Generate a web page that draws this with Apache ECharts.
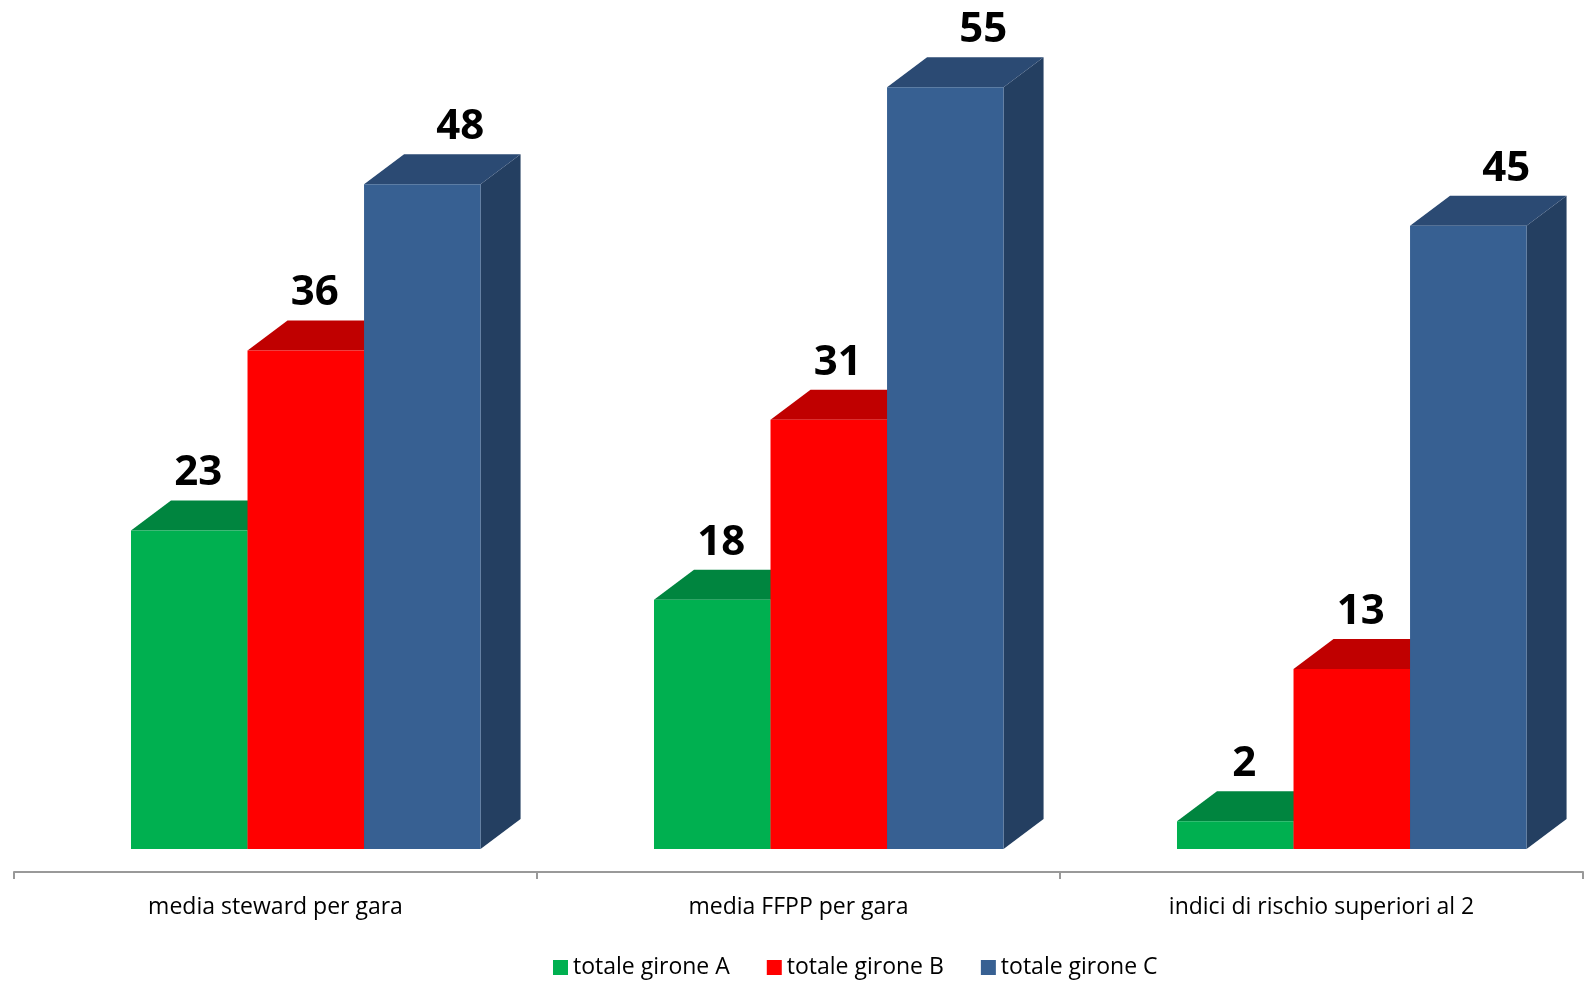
<!DOCTYPE html>
<html>
<head>
<meta charset="utf-8">
<script src="https://cdn.jsdelivr.net/npm/echarts@6/dist/echarts.min.js"></script>
<style>html,body{margin:0;padding:0;background:#fff;overflow:hidden;}#c{width:1587px;height:992px;}</style>
</head>
<body>
<div id="c"></div>
<script>
const categories = ['media steward per gara', 'media FFPP per gara', 'indici di rischio superiori al 2'];
const seriesNames = ['totale girone A', 'totale girone B', 'totale girone C'];
const gironeA = [23, 18, 2];
const gironeB = [36, 31, 13];
const gironeC = [48, 55, 45];

const frontColors = ['#00B050', '#FF0000', '#376092'];
const topColors = ['#00853F', '#C00000', '#2B4A73'];
const sideColors = ['#007A3A', '#A00000', '#243F61'];
const labelShift = [9, 9, 38];
const FONT = '"Open Sans", "Liberation Sans", sans-serif';

const chart = echarts.init(document.getElementById('c'), null, {renderer: 'canvas'});

function makeRender(si) {
  return function (params, api) {
    const cat = api.value(0), val = api.value(1);
    const top = api.coord([cat, val]);
    const base = api.coord([cat, 0]);
    const band = api.size([1, 0])[0];
    const w = band * 0.2228;
    const dx = band * 0.0765, dy = band * 0.0574;
    const x0 = top[0] - band * 0.2763 + si * w;
    const x1 = x0 + w;
    const yt = top[1], yb = base[1];
    const children = [
      {type: 'polygon', shape: {points: [[x1, yt], [x1 + dx, yt - dy], [x1 + dx, yb - dy], [x1, yb]]}, style: {fill: sideColors[si]}},
      {type: 'polygon', shape: {points: [[x0, yt], [x0 + dx, yt - dy], [x1 + dx, yt - dy], [x1, yt]]}, style: {fill: topColors[si]}},
      {type: 'rect', shape: {x: x0, y: yt, width: w, height: yb - yt}, style: {fill: frontColors[si]}},
      {type: 'text', style: {text: String(val), x: x0 + w / 2 + labelShift[si], y: yt - dy - 27, align: 'center', verticalAlign: 'middle', font: 'bold 42px ' + FONT, fill: '#000'}, z2: 100}
    ];
    return {type: 'group', children: children};
  };
}

const datasets = [gironeA, gironeB, gironeC];
const series = datasets.map((arr, si) => ({
  type: 'custom',
  name: seriesNames[si],
  renderItem: makeRender(si),
  itemStyle: {color: frontColors[si]},
  encode: {x: 0, y: 1},
  data: arr.map((v, i) => [i, v]),
  z: 2 + si
}));

chart.setOption({
  animation: false,
  backgroundColor: '#fff',
  grid: {left: 14, right: 4, top: 18, bottom: 120, containLabel: false},
  xAxis: {
    type: 'category',
    position: 'bottom',
    data: categories,
    axisLine: {onZero: false, lineStyle: {color: '#999', width: 2}},
    axisTick: {show: true, length: 7, lineStyle: {color: '#999', width: 2}},
    axisLabel: {color: '#000', fontSize: 23, fontFamily: FONT, margin: 24},
    splitLine: {show: false}
  },
  yAxis: {type: 'value', min: -1.66, max: 60, show: false, splitLine: {show: false}},
  legend: {
    bottom: 8, left: 548, icon: 'rect', itemWidth: 15, itemHeight: 15, itemGap: 37,
    textStyle: {fontSize: 23, fontFamily: FONT, color: '#000'},
    data: seriesNames
  },
  series: series
});
</script>
</body>
</html>
